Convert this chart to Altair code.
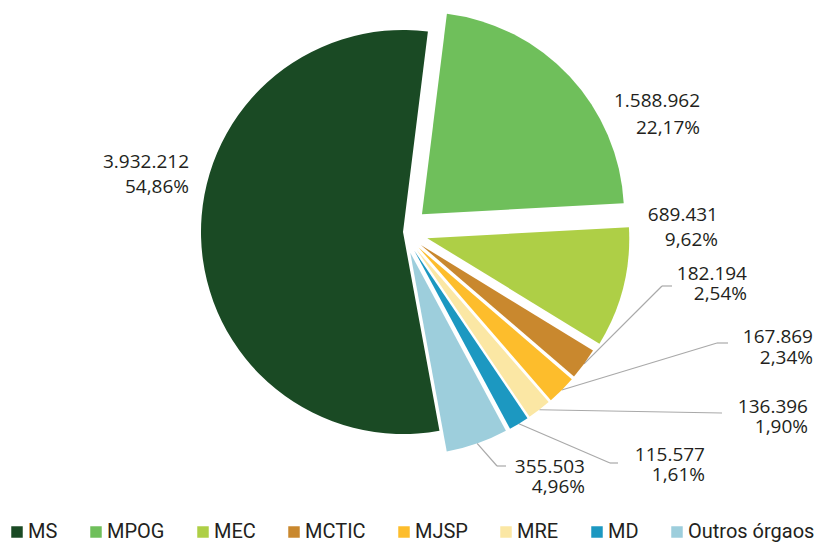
import math
import altair as alt
import pandas as pd

# ---- data ----
categories = ["MS", "MPOG", "MEC", "MCTIC", "MJSP", "MRE", "MD", "Outros órgaos"]
values = [3932212, 1588962, 689431, 182194, 167869, 136396, 115577, 355503]
value_labels = ["3.932.212", "1.588.962", "689.431", "182.194", "167.869", "136.396", "115.577", "355.503"]
pct_labels = ["54,86%", "22,17%", "9,62%", "2,54%", "2,34%", "1,90%", "1,61%", "4,96%"]

# ---- style / layout ----
colors = ["#1a4a24", "#6fbf5b", "#aecf46", "#c9882e", "#fdbd2c", "#fbe7a4", "#1c98c1", "#9dcedc"]
explode = [0, 26, 25, 22, 22, 22, 22, 22]
label_x = [181, 692, 710, 739, 805, 800, 697, 577]      # right edge of label block
label_y = [153.5, 92.5, 207, 266, 329, 399, 447, 459]   # first line centre
label_gap = [25, 27, 25, 20, 21, 20, 20, 20]
leader_ex = [None, None, None, 654, 709, 714, 602, 489]
leader_ey = [None, None, None, 278, 335, 405, 455, 458]
leader_hx = [None, None, None, 664, 720, 714, 610, 498]

CX, CY, R = 395, 224, 202
START = math.radians(169.6)
FONT = "Open Sans"
LFONT = "Roboto"
TXT = "#231f20"

df = pd.DataFrame({
    "order": list(range(len(categories))),
    "category": categories,
    "value": values,
    "vlabel": value_labels,
    "plabel": pct_labels,
    "explode": explode,
    "lx": label_x,
    "ly": label_y,
    "gap": label_gap,
    "ex": leader_ex,
    "ey": leader_ey,
    "hx": leader_hx,
})

base = (
    alt.Chart(df)
    .transform_window(cum="sum(value)", sort=[alt.SortField("order")], frame=[None, 0])
    .transform_joinaggregate(total="sum(value)")
    .transform_calculate(
        t0=f"{START} + 2*PI*(datum.cum - datum.value)/datum.total",
        t1=f"{START} + 2*PI*datum.cum/datum.total",
    )
    .transform_calculate(mid="(datum.t0 + datum.t1)/2")
    .transform_calculate(
        cx=f"{CX} + datum.explode*sin(datum.mid)",
        cy=f"{CY} - datum.explode*cos(datum.mid)",
    )
    .transform_calculate(
        sx=f"datum.cx + {R}*sin(datum.mid)",
        sy=f"datum.cy - {R}*cos(datum.mid)",
        ly2="datum.ly + datum.gap",
    )
)

leaders = base.transform_filter("isValid(datum.ex)")
seg1 = leaders.mark_rule(color="#a9a9a9", strokeWidth=1.2).encode(
    x=alt.X("sx:Q", scale=None, axis=None),
    y=alt.Y("sy:Q", scale=None, axis=None),
    x2="ex:Q",
    y2="ey:Q",
)
seg2 = leaders.mark_rule(color="#a9a9a9", strokeWidth=1.2).encode(
    x=alt.X("ex:Q", scale=None, axis=None),
    y=alt.Y("ey:Q", scale=None, axis=None),
    x2="hx:Q",
    y2="ey:Q",
)

arcs = base.mark_arc(radius=R).encode(
    x=alt.X("cx:Q", scale=None, axis=None),
    y=alt.Y("cy:Q", scale=None, axis=None),
    theta=alt.Theta("t0:Q", scale=None, stack=None),
    theta2="t1:Q",
    color=alt.Color(
        "category:N",
        scale=alt.Scale(domain=categories, range=colors),
        legend=alt.Legend(
            title=None,
            orient="none",
            legendX=-1,
            legendY=514,
            direction="horizontal",
            symbolType="square",
            symbolSize=132,
            symbolStrokeWidth=0,
            symbolOpacity=1,
            labelFont=LFONT,
            labelFontSize=20,
            labelColor=TXT,
            labelOffset=1,
            columnPadding=28,
            padding=0,
        ),
    ),
)

t1 = base.mark_text(font=FONT, fontSize=19, color=TXT, align="right", baseline="middle").encode(
    x=alt.X("lx:Q", scale=None, axis=None),
    y=alt.Y("ly:Q", scale=None, axis=None),
    text="vlabel:N",
)
t2 = base.mark_text(font=FONT, fontSize=19, color=TXT, align="right", baseline="middle").encode(
    x=alt.X("lx:Q", scale=None, axis=None),
    y=alt.Y("ly2:Q", scale=None, axis=None),
    text="plabel:N",
)

chart = (
    alt.layer(seg1, seg2, arcs, t1, t2)
    .properties(width=808, height=534, autosize="none", padding=0)
    .configure_view(stroke=None)
)

chart.save("out.html", embed_options={"renderer": "svg", "actions": False})
